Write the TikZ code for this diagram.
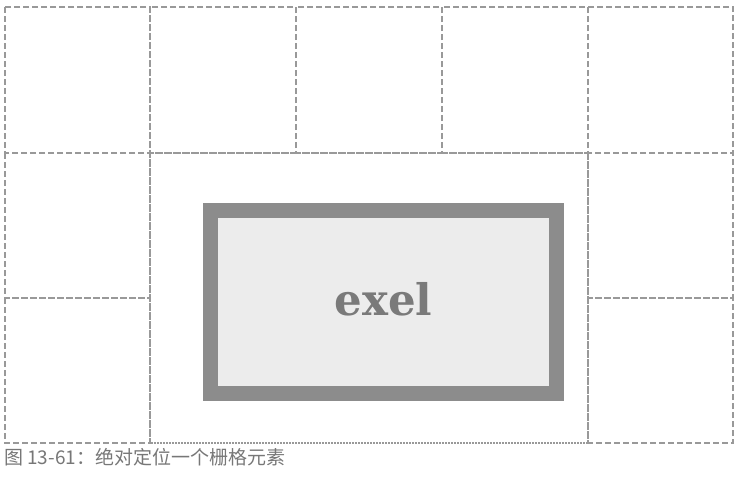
\documentclass[tikz,border=0pt]{standalone}
\usepackage{fontspec}
\newfontfamily\cjk{Noto Sans CJK SC}
\newfontfamily\slab{DejaVu Serif}[BoldFont={DejaVu Serif Bold}]
\definecolor{gridline}{HTML}{999999}
\definecolor{boxborder}{HTML}{8C8C8C}
\definecolor{boxfill}{HTML}{ECECEC}
\definecolor{txtgray}{HTML}{7A7A7A}
\definecolor{capgray}{HTML}{777777}
\tikzset{
  gridcell/.style={draw=gridline, line width=1.2pt, dash pattern=on 6pt off 3pt},
  spanarea/.style={draw=gridline, line width=1.1pt, dash pattern=on 1.6pt off 1.4pt},
  itembox/.style={draw=boxborder, fill=boxfill, line width=15pt},
}
\begin{document}
\begin{tikzpicture}[x=1pt,y=-1pt]
\useasboundingbox (0,0) rectangle (740,488);
% outer grid cells (not covered by the spanned item)
\draw[gridcell] (5,7) rectangle (150,153);
\draw[gridcell] (150,7) rectangle (296,153);
\draw[gridcell] (296,7) rectangle (442,153);
\draw[gridcell] (442,7) rectangle (588,153);
\draw[gridcell] (588,7) rectangle (733,153);
\draw[gridcell] (5,153) rectangle (150,298);
\draw[gridcell] (5,298) rectangle (150,443);
\draw[gridcell] (588,153) rectangle (733,298);
\draw[gridcell] (588,298) rectangle (733,443);
% spanned area
\draw[spanarea] (150,153) rectangle (588,443);
% absolutely positioned item
\draw[itembox] (210.5,210.5) rectangle (556.5,393.5);
\node[anchor=base, text=txtgray, font=\slab\bfseries\fontsize{43.5}{44}\selectfont, inner sep=0pt] (lbl) at (383.5,315) {exel};
% caption
\node[anchor=west, text=capgray, font=\cjk\fontsize{19}{22}\selectfont, inner sep=0pt] (cap) at (4,457) {图 13-61：绝对定位一个栅格元素};
\end{tikzpicture}
\end{document}
